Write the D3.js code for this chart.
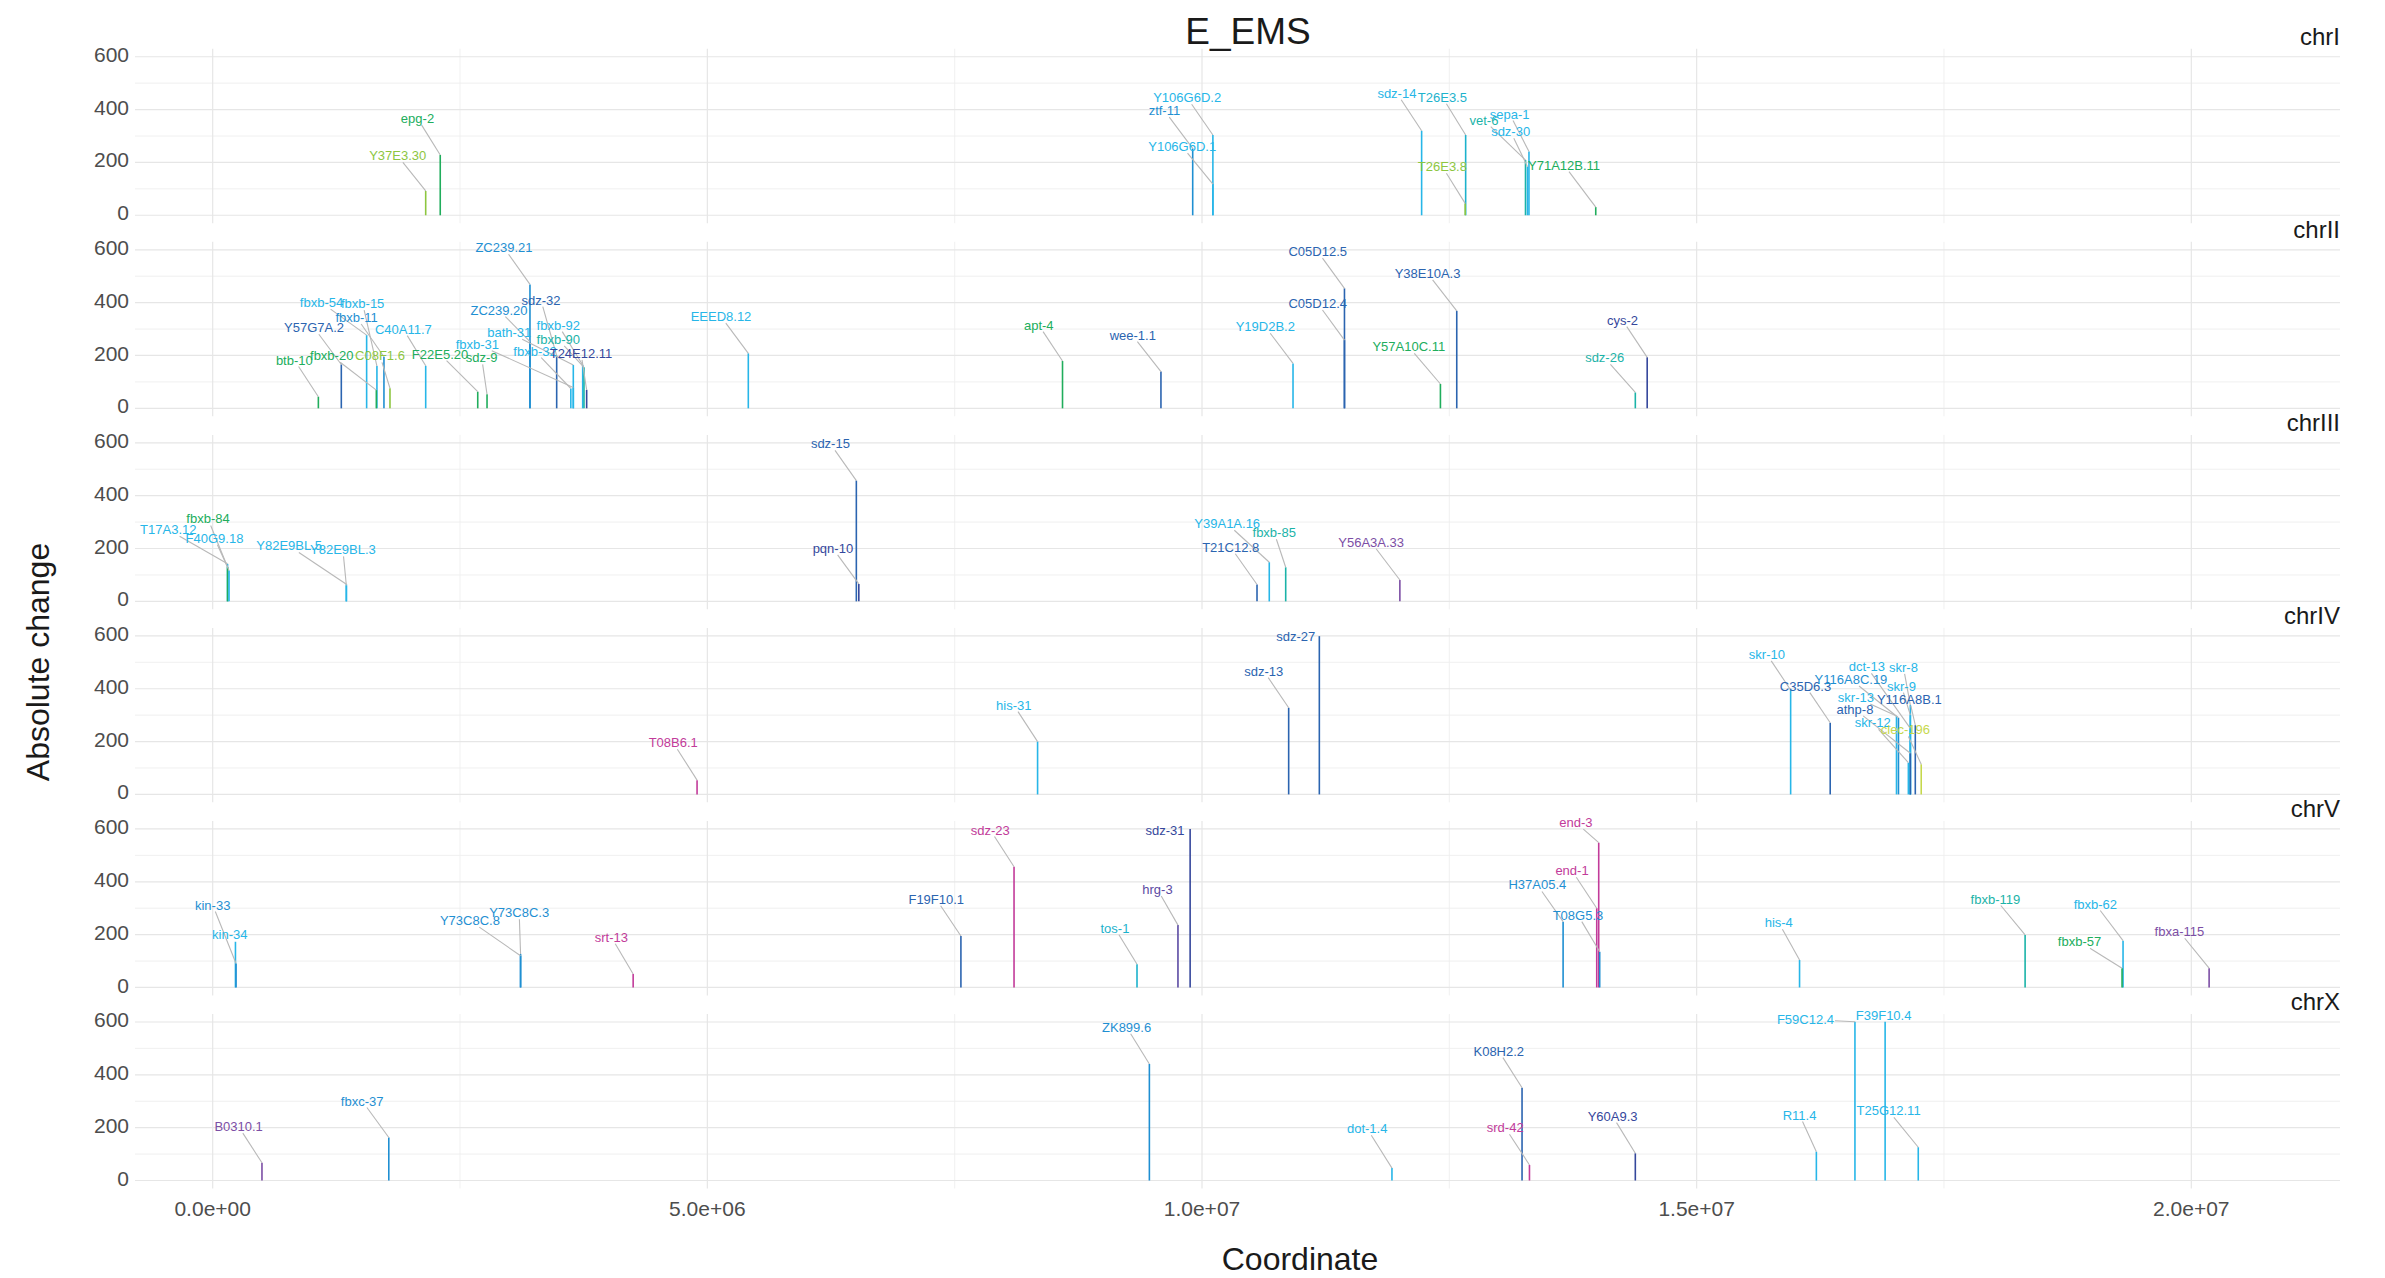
<!DOCTYPE html>
<html lang="en">
<head>
<meta charset="UTF-8" />
<title>E_EMS</title>
<script src="https://d3js.org/d3.v7.min.js"></script>
<style>
  body { margin: 0; background: #fff; }
  svg text { font-family: "Liberation Sans", Arial, Helvetica, sans-serif; }
  .grid-major { stroke: #e6e6e6; stroke-width: 1.2px; }
  .grid-minor { stroke: #eeeeee; stroke-width: 0.9px; }
  .tick-lbl { fill: #4d4d4d; font-size: 21px; }
  .strip { fill: #1a1a1a; font-size: 24px; }
  .leader { stroke: #b8b8b8; stroke-width: 1.1px; fill: none; }
</style>
</head>
<body>
<svg id="chart" width="2385" height="1278"></svg>
<script>
// gene, coordinate (Mb), absolute change, colour group, label coordinate (Mb), label height
const chromosomes = ["chrI", "chrII", "chrIII", "chrIV", "chrV", "chrX"];

const chrI = [
  ["Y37E3.30", 2.153, 92, "lg", 1.87, 225],
  ["epg-2", 2.30, 228, "g", 2.07, 367],
  ["ztf-11", 9.906, 253, "cb", 9.62, 396],
  ["Y106G6D.2", 10.11, 304, "c", 9.85, 445],
  ["Y106G6D.1", 10.11, 118, "c", 9.80, 260],
  ["sdz-14", 12.22, 320, "c", 11.97, 462],
  ["T26E3.5", 12.665, 304, "tc", 12.43, 447],
  ["T26E3.8", 12.66, 45, "lg", 12.43, 184],
  ["vet-6", 13.27, 209, "t", 12.85, 360],
  ["sdz-30", 13.29, 184, "c", 13.12, 316],
  ["sepa-1", 13.305, 241, "c", 13.11, 383],
  ["Y71A12B.11", 13.98, 31, "g", 13.66, 190]
];

const chrII = [
  ["btb-10", 1.068, 44, "g", 0.825, 183],
  ["Y57G7A.2", 1.300, 166, "b", 1.024, 305],
  ["fbxb-54", 1.556, 277, "c", 1.10, 400],
  ["fbxb-20", 1.654, 69, "g", 1.203, 199],
  ["fbxb-15", 1.66, 160, "c", 1.516, 396],
  ["fbxb-11", 1.731, 195, "cb", 1.455, 344],
  ["C08F1.6", 1.792, 76, "lg", 1.691, 199],
  ["C40A11.7", 2.153, 161, "c", 1.927, 300],
  ["F22E5.20", 2.679, 63, "g", 2.298, 205],
  ["sdz-9", 2.773, 53, "g", 2.719, 191],
  ["ZC239.21", 3.207, 469, "cb", 2.944, 608],
  ["ZC239.20", 3.207, 252, "cb", 2.894, 372],
  ["sdz-32", 3.477, 199, "b", 3.318, 410],
  ["bath-31", 3.645, 164, "c", 2.998, 286],
  ["fbxb-31", 3.645, 79, "c", 2.675, 243],
  ["fbxb-32", 3.62, 75, "c", 3.258, 217],
  ["fbxb-92", 3.740, 164, "c", 3.493, 315],
  ["fbxb-90", 3.753, 155, "t", 3.493, 261],
  ["T24E12.11", 3.780, 70, "db", 3.723, 208],
  ["EEED8.12", 5.414, 208, "c", 5.138, 347],
  ["apt-4", 8.59, 179, "g", 8.35, 315],
  ["wee-1.1", 9.585, 139, "b", 9.30, 277],
  ["Y19D2B.2", 10.92, 170, "c", 10.64, 309],
  ["C05D12.5", 11.44, 454, "b", 11.17, 593],
  ["C05D12.4", 11.44, 258, "b", 11.17, 397],
  ["Y57A10C.11", 12.41, 92, "g", 12.09, 233],
  ["Y38E10A.3", 12.575, 369, "b", 12.28, 511],
  ["sdz-26", 14.38, 60, "t", 14.07, 191],
  ["cys-2", 14.50, 193, "db", 14.25, 334]
];

const chrIII = [
  ["T17A3.12", 0.150, 142, "c", -0.449, 271],
  ["fbxb-84", 0.150, 130, "g", -0.047, 312],
  ["F40G9.18", 0.165, 117, "c", 0.018, 239],
  ["Y82E9BL.5", 1.351, 65, "c", 0.773, 210],
  ["Y82E9BL.3", 1.351, 60, "c", 1.316, 195],
  ["sdz-15", 6.506, 457, "b", 6.244, 596],
  ["pqn-10", 6.531, 66, "db", 6.269, 201],
  ["T21C12.8", 10.556, 64, "b", 10.29, 205],
  ["Y39A1A.16", 10.68, 148, "c", 10.255, 294],
  ["fbxb-85", 10.846, 129, "t", 10.73, 260],
  ["Y56A3A.33", 12.0, 81, "p", 11.71, 224]
];

const chrIV = [
  ["T08B6.1", 4.896, 54, "m", 4.655, 196],
  ["his-31", 8.338, 200, "c", 8.097, 338],
  ["sdz-13", 10.876, 328, "b", 10.625, 467],
  ["sdz-27", 11.186, 599, "b", 10.948, 599],
  ["skr-10", 15.95, 395, "c", 15.71, 530],
  ["C35D6.3", 16.35, 271, "b", 16.10, 410],
  ["skr-13", 17.02, 297, "c", 16.61, 367],
  ["Y116A8C.19", 17.04, 290, "cb", 16.56, 435],
  ["dct-13", 17.16, 250, "c", 16.72, 483],
  ["skr-8", 17.16, 338, "c", 17.09, 481],
  ["skr-9", 17.16, 300, "c", 17.07, 410],
  ["Y116A8B.1", 17.21, 262, "b", 17.15, 360],
  ["athp-8", 17.16, 156, "b", 16.60, 322],
  ["skr-12", 17.14, 120, "c", 16.78, 271],
  ["clec-196", 17.27, 114, "y", 17.11, 244]
];

const chrV = [
  ["kin-33", 0.236, 91, "cb", 0.0, 312],
  ["kin-34", 0.230, 173, "c", 0.173, 199],
  ["Y73C8C.8", 3.112, 120, "cb", 2.60, 253],
  ["Y73C8C.3", 3.112, 127, "cb", 3.098, 283],
  ["srt-13", 4.25, 51, "m", 4.03, 190],
  ["F19F10.1", 7.563, 195, "b", 7.314, 334],
  ["sdz-23", 8.10, 457, "m", 7.86, 596],
  ["tos-1", 9.343, 88, "tc", 9.12, 224],
  ["hrg-3", 9.757, 236, "p2", 9.55, 371],
  ["sdz-31", 9.88, 600, "db", 9.626, 596],
  ["H37A05.4", 13.65, 249, "cb", 13.39, 388],
  ["end-1", 13.99, 300, "m", 13.74, 442],
  ["end-3", 14.01, 548, "m", 13.78, 624],
  ["T08G5.3", 14.02, 135, "cb", 13.80, 274],
  ["his-4", 16.04, 104, "c", 15.83, 245],
  ["fbxb-119", 18.32, 199, "t", 18.02, 335],
  ["fbxb-57", 19.30, 73, "g", 18.87, 173],
  ["fbxb-62", 19.31, 177, "c", 19.03, 316],
  ["fbxa-115", 20.18, 73, "p", 19.88, 211]
];

const chrX = [
  ["B0310.1", 0.498, 67, "p", 0.262, 204],
  ["fbxc-37", 1.78, 163, "cb", 1.511, 301],
  ["ZK899.6", 9.468, 441, "cb", 9.238, 580],
  ["dot-1.4", 11.92, 47, "c", 11.67, 196],
  ["K08H2.2", 13.235, 351, "b", 13.0, 490],
  ["srd-42", 13.31, 59, "m", 13.065, 200],
  ["Y60A9.3", 14.38, 103, "db", 14.15, 244],
  ["R11.4", 16.21, 109, "c", 16.04, 248],
  ["F59C12.4", 16.60, 601, "c", 16.10, 610],
  ["F39F10.4", 16.905, 601, "c", 16.89, 626],
  ["T25G12.11", 17.24, 126, "c", 16.94, 264]
];

const groupKeys = ["lg", "g", "t", "tc", "c", "cb", "b", "db", "p2", "p", "m", "y"];
const groupColors = ["#8dc63f", "#20ad5c", "#1bb3a8", "#1cb2cc", "#27b6e8", "#1f8fd2",
                     "#2b64b0", "#35479c", "#5b4aa3", "#7c4ea5", "#c23b9a", "#c6d84c"];

const xTicks = [0, 5e6, 1e7, 1.5e7, 2e7];
const xMinor = [2.5e6, 7.5e6, 1.25e7, 1.75e7];
const yTicks = [0, 200, 400, 600];
const yMinor = [100, 300, 500];

const panelData = [chrI, chrII, chrIII, chrIV, chrV, chrX];

const svg = d3.select("#chart");
const left = 135, right = 2340;
const panelTop = 48.8, panelH = 174.4, panelStep = 193.05;

const x = d3.scaleLinear().domain([-0.7854e6, 21.503e6]).range([left, right]);
const y = d3.scaleLinear().domain([-30, 630]).range([panelH, 0]);
const color = d3.scaleOrdinal().domain(groupKeys).range(groupColors);

function sci(v) {
  if (v === 0) return "0.0e+00";
  const e = Math.floor(Math.log10(Math.abs(v)));
  const m = v / Math.pow(10, e);
  return m.toFixed(1) + "e+" + String(e).padStart(2, "0");
}

// clip the segment from (px,py) to (cx,cy) where it enters box b
function enterBox(px, py, cx, cy, b) {
  const dx = cx - px, dy = cy - py;
  const p = [-dx, dx, -dy, dy];
  const q = [px - b.x0, b.x1 - px, py - b.y0, b.y1 - py];
  let t0 = 0, t1 = 1;
  for (let i = 0; i < 4; i++) {
    if (p[i] === 0) { if (q[i] < 0) return null; continue; }
    const r = q[i] / p[i];
    if (p[i] < 0) t0 = Math.max(t0, r); else t1 = Math.min(t1, r);
  }
  if (t0 > t1) return null;
  return [px + t0 * dx, py + t0 * dy];
}

chromosomes.forEach((chr, i) => {
  const top = panelTop + i * panelStep;
  const g = svg.append("g").attr("transform", `translate(0,${top})`);
  const rows = panelData[i].map(r => ({
    name: r[0], pos: r[1] * 1e6, val: r[2], grp: r[3], lpos: r[4] * 1e6, lval: r[5]
  }));

  // grid
  g.selectAll("line.vmin").data(xMinor).join("line").attr("class", "grid-minor")
    .attr("x1", d => x(d)).attr("x2", d => x(d)).attr("y1", 0).attr("y2", panelH);
  g.selectAll("line.hmin").data(yMinor).join("line").attr("class", "grid-minor")
    .attr("x1", left).attr("x2", right).attr("y1", d => y(d)).attr("y2", d => y(d));
  g.selectAll("line.vmaj").data(xTicks).join("line").attr("class", "grid-major")
    .attr("x1", d => x(d)).attr("x2", d => x(d)).attr("y1", 0).attr("y2", panelH);
  g.selectAll("line.hmaj").data(yTicks).join("line").attr("class", "grid-major")
    .attr("x1", left).attr("x2", right).attr("y1", d => y(d)).attr("y2", d => y(d));

  // y tick labels
  g.selectAll("text.ytk").data(yTicks).join("text").attr("class", "tick-lbl")
    .attr("x", left - 6).attr("y", d => y(d)).attr("dy", "0.24em")
    .attr("text-anchor", "end").text(d => d);

  // strip
  g.append("text").attr("class", "strip").attr("x", right).attr("y", -4)
    .attr("text-anchor", "end").text(chr);

  // segments, tallest first so short ones stay visible
  const sorted = rows.slice().sort((a, b) => b.val - a.val);
  g.selectAll("line.seg").data(sorted).join("line")
    .attr("x1", d => x(d.pos)).attr("x2", d => x(d.pos))
    .attr("y1", y(0)).attr("y2", d => y(d.val))
    .attr("stroke", d => color(d.grp)).attr("stroke-width", 1.6);

  const leaders = g.append("g");
  const labels = g.selectAll("text.lbl").data(rows).join("text")
    .attr("x", d => x(d.lpos)).attr("y", d => y(d.lval)).attr("dy", "0.35em")
    .attr("text-anchor", "middle").attr("font-size", "13px")
    .attr("fill", d => color(d.grp)).text(d => d.name);

  labels.each(function (d) {
    const bb = this.getBBox();
    const box = { x0: bb.x - 1, x1: bb.x + bb.width + 1, y0: bb.y + 1, y1: bb.y + bb.height - 1 };
    const px = x(d.pos), py = y(d.val);
    const cx = bb.x + bb.width / 2, cy = bb.y + bb.height / 2;
    const hit = enterBox(px, py, cx, cy, box);
    if (!hit) return;
    if (Math.hypot(hit[0] - px, hit[1] - py) < 7) return;
    leaders.append("line").attr("class", "leader")
      .attr("x1", px).attr("y1", py).attr("x2", hit[0]).attr("y2", hit[1]);
  });
});

// x tick labels
const bottom = panelTop + 5 * panelStep + panelH;
svg.selectAll("text.xtk").data(xTicks).join("text").attr("class", "tick-lbl")
  .attr("x", d => x(d)).attr("y", bottom + 28).attr("text-anchor", "middle").text(sci);

svg.append("text").attr("x", 1248).attr("y", 44).attr("text-anchor", "middle")
  .attr("font-size", "37px").attr("fill", "#1a1a1a").text("E_EMS");
svg.append("text").attr("x", 1300).attr("y", 1270).attr("text-anchor", "middle")
  .attr("font-size", "32px").attr("fill", "#1a1a1a").text("Coordinate");
svg.append("text").attr("transform", "translate(49,662) rotate(-90)").attr("text-anchor", "middle")
  .attr("font-size", "32px").attr("fill", "#1a1a1a").text("Absolute change");
</script>
</body>
</html>
